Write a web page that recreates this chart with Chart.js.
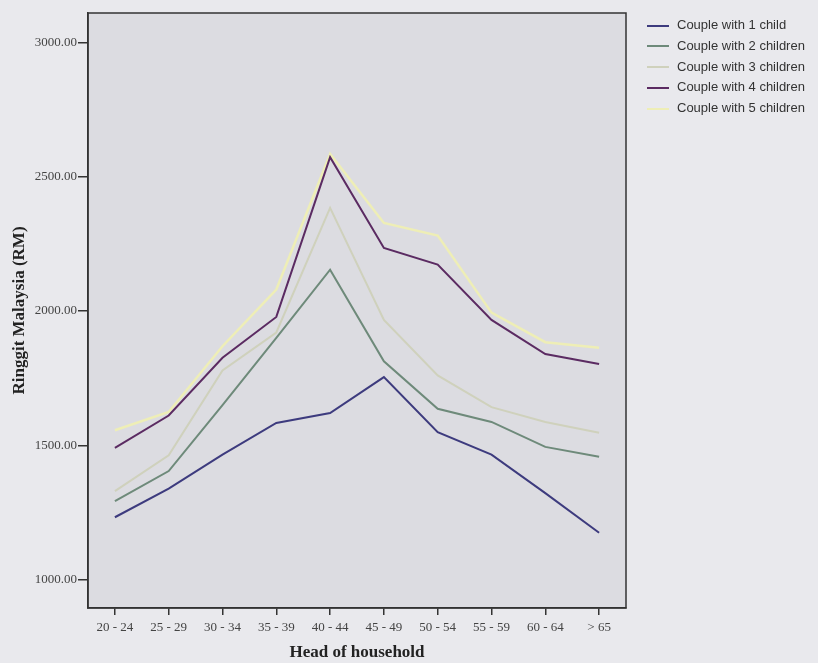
<!DOCTYPE html>
<html>
<head>
<meta charset="utf-8">
<script src="https://cdn.jsdelivr.net/npm/chart.js@4/dist/chart.umd.min.js"></script>
<style>
  html, body { margin: 0; padding: 0; background: #e9e9ed; }
  #wrap { position: relative; width: 818px; height: 663px; }
  #legend { position: absolute; left: 647px; top: 15px; font: 13px "Liberation Sans", Arial, sans-serif; color: #333; }
  #legend div { height: 20.8px; line-height: 20.8px; white-space: nowrap; }
  #legend span.swatch { display: inline-block; width: 22px; height: 2px; vertical-align: middle; margin-right: 8px; }
</style>
</head>
<body>
<div id="wrap">
  <canvas id="chart" width="818" height="663"></canvas>
  <div id="legend"></div>
</div>
<script>
  const categories = ['20 - 24', '25 - 29', '30 - 34', '35 - 39', '40 - 44', '45 - 49', '50 - 54', '55 - 59', '60 - 64', '> 65'];
  const seriesNames = ['Couple with 1 child', 'Couple with 2 children', 'Couple with 3 children', 'Couple with 4 children', 'Couple with 5 children'];
  const oneChild    = [1232, 1339, 1465, 1583, 1620, 1754, 1549, 1465, 1322, 1174];
  const twoChildren = [1292, 1404, 1650, 1900, 2154, 1813, 1636, 1587, 1494, 1457];
  const threeChildren = [1329, 1463, 1779, 1920, 2384, 1967, 1760, 1642, 1587, 1547];
  const fourChildren  = [1490, 1611, 1826, 1978, 2573, 2235, 2173, 1967, 1840, 1803];
  const fiveChildren  = [1556, 1624, 1869, 2080, 2585, 2328, 2281, 1994, 1884, 1863];
  const yTicks = [1000, 1500, 2000, 2500, 3000];

  const lineColors = ['#3d3b7e', '#6e8a7a', '#cfd1bc', '#5b2b62', '#eeeeb6'];
  const lineWidths = [2, 2, 2, 2, 2.5];
  const allSeries = [oneChild, twoChildren, threeChildren, fourChildren, fiveChildren];

  const serif = '"Liberation Serif", "Times New Roman", serif';

  // plot background + full frame
  const framePlugin = {
    id: 'frame',
    beforeDraw(chart) {
      const a = chart.chartArea, ctx = chart.ctx;
      ctx.save();
      ctx.fillStyle = '#dcdce1';
      ctx.fillRect(a.left, a.top, a.right - a.left, a.bottom - a.top);
      ctx.restore();
    },
    afterDraw(chart) {
      const a = chart.chartArea, ctx = chart.ctx;
      ctx.save();
      ctx.strokeStyle = '#333';
      ctx.lineWidth = 1.5;
      ctx.strokeRect(a.left, a.top, a.right - a.left, a.bottom - a.top);
      ctx.restore();
    }
  };

  new Chart(document.getElementById('chart').getContext('2d'), {
    type: 'line',
    data: {
      labels: categories,
      datasets: allSeries.map((vals, i) => ({
        label: seriesNames[i],
        data: vals,
        borderColor: lineColors[i],
        borderWidth: lineWidths[i],
        pointRadius: 0,
        tension: 0,
        fill: false
      }))
    },
    options: {
      responsive: false,
      animation: false,
      layout: { padding: { top: 13, right: 192, left: 0, bottom: 0 } },
      plugins: { legend: { display: false }, tooltip: { enabled: false } },
      scales: {
        x: {
          offset: true,
          grid: { drawOnChartArea: false, drawTicks: true, tickLength: 7, color: '#333', lineWidth: 1.5 },
          border: { color: '#333', width: 1.5 },
          ticks: { color: '#444', font: { family: serif, size: 13 }, padding: 5, maxRotation: 0, autoSkip: false },
          title: { display: true, text: 'Head of household', color: '#222', font: { family: serif, size: 17, weight: 'bold' }, padding: { top: -1, bottom: 0 } },
          afterFit(scale) { scale.height = 55; }
        },
        y: {
          min: 894,
          max: 3110,
          grid: { drawOnChartArea: false, drawTicks: true, tickLength: 10, color: '#333', lineWidth: 1.5 },
          border: { color: '#333', width: 1.5 },
          ticks: { color: '#444', font: { family: serif, size: 13 }, padding: 1, callback: v => v.toFixed(2) },
          afterBuildTicks(scale) { scale.ticks = yTicks.map(v => ({ value: v })); },
          title: { display: true, text: 'Ringgit Malaysia (RM)', color: '#222', font: { family: serif, size: 17, weight: 'bold' }, padding: { top: 9, bottom: 0 } },
          afterFit(scale) { scale.width = 88; }
        }
      }
    },
    plugins: [framePlugin]
  });

  document.getElementById('legend').innerHTML = seriesNames.map((n, i) =>
    `<div><span class="swatch" style="background:${lineColors[i]}"></span>${n}</div>`
  ).join('');
</script>
</body>
</html>
